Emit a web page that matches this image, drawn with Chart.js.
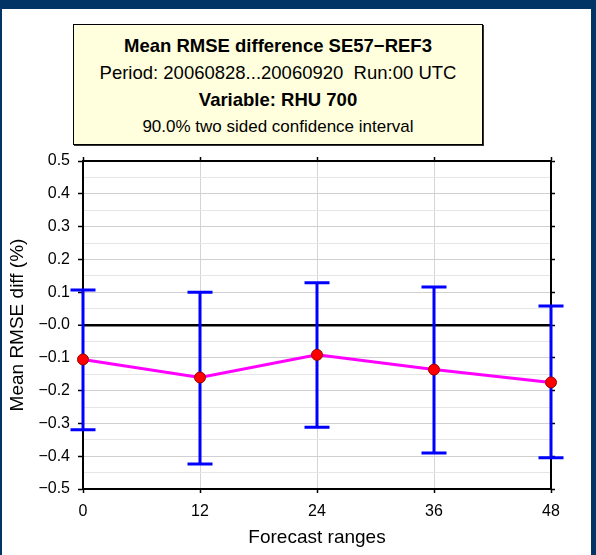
<!DOCTYPE html>
<html>
<head>
<meta charset="utf-8">
<script src="https://cdn.jsdelivr.net/npm/chart.js@4"></script>
<style>
  body { margin: 0; background: #033466; width: 596px; height: 555px; overflow: hidden; position: relative; }
  #panel { position: absolute; left: 2px; top: 9px; width: 589px; height: 546px; background: #fff; }
  #titlebox {
    position: absolute; left: 73px; top: 24px; width: 408px; height: 112px;
    background: #ffffdd; border: 1px solid #000; box-shadow: 1px 1px 0 #333;
    font-family: "Liberation Sans", Arial, sans-serif; color: #000; text-align: center;
    padding-top: 7px; box-sizing: content-box;
  }
  #titlebox div { line-height: 27px; white-space: pre; }
  .b { font-weight: bold; font-size: 18.5px; }
  .r { font-size: 18.5px; }
  .s { font-size: 17px; }
  #myChart { position: absolute; left: 0; top: 0; }
</style>
</head>
<body>
<div id="panel"></div>
<div id="titlebox">
  <div class="b">Mean RMSE difference SE57−REF3</div>
  <div class="r">Period: 20060828...20060920  Run:00 UTC</div>
  <div class="b">Variable: RHU 700</div>
  <div class="s">90.0% two sided confidence interval</div>
</div>
<canvas id="myChart" width="596" height="555"></canvas>
<script>
// forecast ranges (hours)
const ranges = [0, 12, 24, 36, 48];
// mean RMSE difference (%)
const meanDiff = [-0.105, -0.160, -0.091, -0.136, -0.175];
// 90% confidence interval bounds
const ciHigh = [0.107, 0.100, 0.129, 0.116, 0.058];
const ciLow = [-0.319, -0.424, -0.312, -0.390, -0.405];

Chart.defaults.font.family = '"Liberation Sans", Arial, sans-serif';
Chart.defaults.color = '#000';

const isMajor = v => Math.round(v * 20) % 2 === 0;
const isZero = v => Math.abs(v) < 1e-9;

const errorBars = {
    id: 'errorBars',
    beforeDatasetsDraw(chart) {
        const {ctx, scales: {x, y}} = chart;
        ctx.save();
        ctx.strokeStyle = '#0000ff';
        ctx.lineWidth = 3;
        ranges.forEach((r, i) => {
            const px = x.getPixelForValue(r);
            const top = y.getPixelForValue(ciHigh[i]);
            const bot = y.getPixelForValue(ciLow[i]);
            ctx.beginPath();
            ctx.moveTo(px, top);
            ctx.lineTo(px, bot);
            ctx.moveTo(px - 12.5, top);
            ctx.lineTo(px + 12.5, top);
            ctx.moveTo(px - 12.5, bot);
            ctx.lineTo(px + 12.5, bot);
            ctx.stroke();
        });
        ctx.restore();
    }
};

const ctx = document.getElementById('myChart');
new Chart(ctx, {
    type: 'line',
    data: {
        datasets: [
            {
                label: 'Mean RMSE diff',
                data: ranges.map((r, i) => ({x: r, y: meanDiff[i]})),
                borderColor: '#ff00ff',
                borderWidth: 3,
                pointBackgroundColor: '#ff0000',
                pointBorderColor: '#990000',
                pointBorderWidth: 1,
                pointRadius: 5.5,
                tension: 0,
                clip: false
            }
        ]
    },
    options: {
        responsive: false,
        animation: false,
        events: [],
        layout: {
            padding: {left: 0, top: 156, right: 40, bottom: 0}
        },
        plugins: {
            legend: {display: false},
            tooltip: {enabled: false}
        },
        scales: {
            x: {
                type: 'linear',
                position: 'bottom',
                min: 0,
                max: 48,
                afterFit: s => { s.height = 66; },
                ticks: {stepSize: 12, padding: 9, font: {size: 16}},
                grid: {
                    color: '#d4d4d4',
                    tickColor: '#000',
                    tickLength: 4,
                    tickWidth: 1.5
                },
                border: {color: '#000', width: 2},
                title: {
                    display: true,
                    text: 'Forecast ranges',
                    font: {size: 19},
                    padding: {top: 0, bottom: 6}
                }
            },
            x2: {
                type: 'linear',
                position: 'top',
                min: 0,
                max: 48,
                afterFit: s => { s.height = 5; },
                ticks: {stepSize: 12, display: false},
                grid: {drawOnChartArea: false, tickColor: '#000', tickLength: 4, tickWidth: 1.5},
                border: {color: '#000', width: 2}
            },
            y: {
                min: -0.5,
                max: 0.5,
                afterFit: s => { s.width = 83; },
                ticks: {
                    stepSize: 0.05,
                    autoSkip: false,
                    padding: 8,
                    font: {size: 16},
                    callback: v => {
                        if (!isMajor(v)) return '';
                        const n = Math.round(v * 10) / 10;
                        return (n <= 0 && n !== 0.5 ? (n === 0 ? '−' : '−') : '') + Math.abs(n).toFixed(1);
                    }
                },
                grid: {
                    color: c => isZero(c.tick.value) ? '#000' : (isMajor(c.tick.value) ? '#d0d0d0' : '#e6e6e6'),
                    lineWidth: c => isZero(c.tick.value) ? 2.5 : 1,
                    tickColor: c => isMajor(c.tick.value) ? '#000' : 'rgba(0,0,0,0)',
                    tickLength: 5,
                    tickWidth: 1.5
                },
                border: {color: '#000', width: 2},
                title: {
                    display: true,
                    text: 'Mean RMSE diff (%)',
                    font: {size: 19},
                    padding: {top: 6, bottom: 0}
                }
            },
            y2: {
                type: 'linear',
                position: 'right',
                min: -0.5,
                max: 0.5,
                afterFit: s => { s.width = 5; },
                ticks: {stepSize: 0.1, display: false},
                grid: {drawOnChartArea: false, tickColor: '#000', tickLength: 4, tickWidth: 1.5},
                border: {color: '#000', width: 2}
            }
        }
    },
    plugins: [errorBars]
});
</script>
</body>
</html>
